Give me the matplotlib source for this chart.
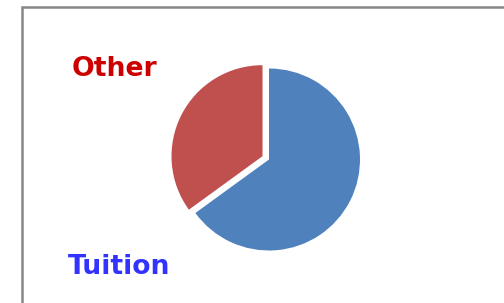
import matplotlib
matplotlib.use("Agg")
import matplotlib.pyplot as plt
from matplotlib.patches import Rectangle

# data
categories = ["Other", "Tuition"]
shares = [35, 65]
slice_colors = ["#C0504D", "#4F81BD"]
label_colors = ["#CC0000", "#3333FF"]

W, H = 504, 303
fig = plt.figure(figsize=(W / 100, H / 100), dpi=100)

# gray frame (only left and top edges visible)
fig.add_artist(Rectangle((22 / W, -0.2), 1.2, 1.2 - 6.5 / H,
                         transform=fig.transFigure, fill=False,
                         edgecolor="#878787", linewidth=1.8))

# pie: radius ~91 px centred at (269, 159.5); pie limits are +-1.25 r
r = 91
side = 2.5 * r
cx, cy = 269, 159.5
ax = fig.add_axes([(cx - side / 2) / W, (H - cy - side / 2) / H, side / W, side / H])
ax.pie(shares, colors=slice_colors, startangle=90, explode=[0.08, 0],
       wedgeprops=dict(linewidth=0))

# labels
fig.text(72 / W, 1 - 76 / H, categories[0], color=label_colors[0],
         fontsize=19.2, fontweight="bold", family="DejaVu Sans", va="baseline")
fig.text(68 / W, 1 - 274 / H, categories[1], color=label_colors[1],
         fontsize=19.2, fontweight="bold", family="DejaVu Sans", va="baseline")

fig.savefig("out.png", dpi=100)
